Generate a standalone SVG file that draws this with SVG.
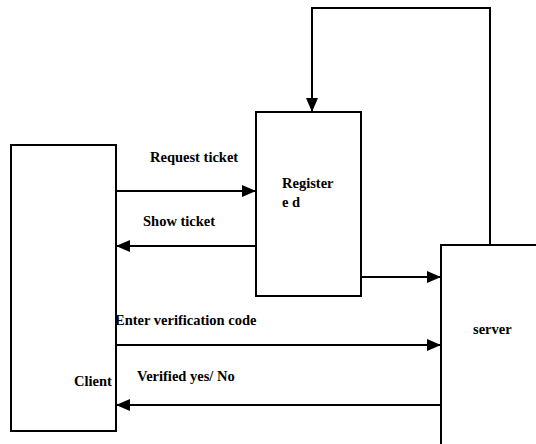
<svg xmlns="http://www.w3.org/2000/svg" width="536" height="444" viewBox="0 0 536 444">
<defs>
<marker id="ah2" markerWidth="14" markerHeight="12" refX="14" refY="6" orient="auto" markerUnits="userSpaceOnUse" viewBox="0 0 14 12">
<path d="M0,0 L14,6 L0,12 Z" fill="#000"/>
</marker>
</defs>
<style>
.box{fill:#fff;stroke:#000;stroke-width:2}
.ln{fill:none;stroke:#000;stroke-width:2}
text{font-family:'Liberation Serif','DejaVu Serif','Times New Roman',serif;font-weight:700;font-size:14.5px;fill:#000}
</style>
<rect width="536" height="444" fill="#fff"/>
<g id="client">
<rect class="box" x="11" y="145" width="105" height="286"/>
<text x="74" y="386">Client</text>
</g>
<g id="registered">
<rect class="box" x="256" y="112" width="105" height="184"/>
<text x="282" y="188">Register</text>
<text x="282" y="207">e d</text>
</g>
<g id="server">
<rect class="box" x="441" y="245" width="110" height="200"/>
<text x="473" y="334">server</text>
</g>
<g id="connectors">
<line class="ln" x1="116" y1="191" x2="256" y2="191" marker-end="url(#ah2)"/>
<line class="ln" x1="256" y1="246" x2="116" y2="246" marker-end="url(#ah2)"/>
<line class="ln" x1="361" y1="277" x2="441" y2="277" marker-end="url(#ah2)"/>
<line class="ln" x1="116" y1="345" x2="441" y2="345" marker-end="url(#ah2)"/>
<line class="ln" x1="441" y1="405" x2="116" y2="405" marker-end="url(#ah2)"/>
<polyline class="ln" points="490,245 490,8 312,8 312,112" marker-end="url(#ah2)"/>
</g>
<g id="labels">
<text x="150" y="162">Request ticket</text>
<text x="143" y="226">Show ticket</text>
<text x="115" y="325">Enter verification code</text>
<text x="137" y="381">Verified yes/ No</text>
</g>
</svg>
